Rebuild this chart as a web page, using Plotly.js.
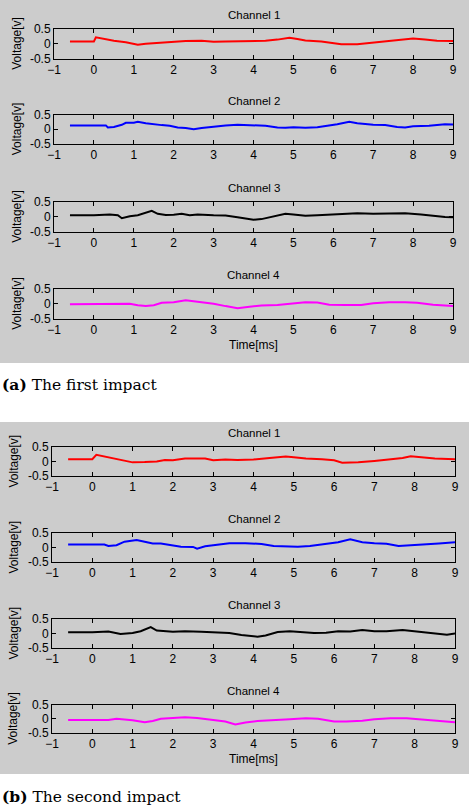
<!DOCTYPE html>
<html>
<head>
<meta charset="utf-8">
<script src="https://cdn.plot.ly/plotly-3.0.1.min.js"></script>
<style>html,body{margin:0;padding:0;background:#fff;}#chart{width:469px;height:805px;}</style>
</head>
<body>
<div id="chart"></div>
<script>
// ---------- Data ----------
var channelNames = ["Channel 1", "Channel 2", "Channel 3", "Channel 4"];
var channelColors = ["#ff0000", "#0000ff", "#000000", "#ff00ff"];
var xTickVals = [-1, 0, 1, 2, 3, 4, 5, 6, 7, 8, 9];
var yTickVals = [-0.5, 0, 0.5];
var yTickText = ["-0.5", "0", "0.5"];
var panelCaptions = ["<b>(a)</b> The first impact", "<b>(b)</b> The second impact"];

// First impact
var tA1 = [-0.6,0,0.05,0.2,0.5,0.8,1.0,1.1,1.3,1.5,1.8,2.0,2.3,2.7,3.0,3.3,3.7,4.0,4.3,4.6,4.9,5.1,5.3,5.7,6.0,6.2,6.6,6.9,7.2,7.5,8.0,8.3,8.6,9.0];
var vA1 = [0.08,0.08,0.22,0.18,0.1,0.05,-0.02,-0.03,0.0,0.02,0.04,0.06,0.09,0.1,0.07,0.08,0.08,0.08,0.1,0.14,0.2,0.16,0.11,0.08,0.02,-0.02,-0.02,0.02,0.06,0.1,0.18,0.14,0.1,0.09];
var tA2 = [-0.6,0,0.3,0.35,0.5,0.7,0.8,1.0,1.1,1.3,1.5,1.7,1.9,2.1,2.3,2.5,2.7,3.0,3.3,3.6,4.0,4.3,4.6,4.8,5.0,5.3,5.6,5.9,6.1,6.4,6.6,7.0,7.3,7.6,7.8,8.0,8.4,8.8,9.0];
var vA2 = [0.13,0.13,0.13,0.06,0.08,0.15,0.22,0.22,0.25,0.2,0.16,0.14,0.12,0.06,0.04,0.0,0.04,0.09,0.13,0.15,0.13,0.12,0.06,0.05,0.07,0.05,0.07,0.12,0.17,0.25,0.2,0.15,0.14,0.08,0.06,0.1,0.12,0.17,0.16];
var tA3 = [-0.6,0,0.4,0.6,0.7,0.9,1.1,1.3,1.45,1.6,1.8,2.0,2.2,2.4,2.6,3.0,3.3,3.6,4.0,4.2,4.4,4.6,4.8,5.0,5.3,5.6,6.0,6.3,6.6,7.0,7.4,7.8,8.2,8.5,8.8,9.0];
var vA3 = [0.05,0.05,0.08,0.05,-0.05,0.02,0.05,0.15,0.2,0.1,0.06,0.07,0.1,0.05,0.08,0.05,0.04,-0.02,-0.1,-0.08,-0.02,0.06,0.1,0.08,0.03,0.05,0.07,0.08,0.12,0.1,0.1,0.12,0.08,0.03,-0.01,-0.02];
var tA4 = [-0.6,0,0.5,0.7,0.9,1.1,1.3,1.5,1.7,2.0,2.3,2.6,3.0,3.3,3.6,3.9,4.2,4.6,5.0,5.3,5.6,5.9,6.3,6.7,7.0,7.4,7.8,8.1,8.5,9.0];
var vA4 = [-0.02,-0.02,-0.02,0.0,0.0,-0.05,-0.08,-0.05,0.03,0.05,0.12,0.07,0.0,-0.08,-0.15,-0.1,-0.06,-0.04,0.0,0.05,0.04,-0.03,-0.04,-0.04,0.02,0.05,0.05,0.03,-0.03,-0.08];

// Second impact
var tB1 = [-0.6,0,0.1,0.3,0.5,0.7,1.0,1.3,1.6,1.8,2.0,2.3,2.6,2.8,3.0,3.3,3.6,4.0,4.4,4.8,5.0,5.3,5.7,6.0,6.2,6.6,7.0,7.4,7.7,7.9,8.2,8.5,9.0];
var vB1 = [0.08,0.08,0.23,0.17,0.12,0.05,-0.03,-0.02,0.0,0.05,0.04,0.1,0.1,0.1,0.04,0.07,0.05,0.07,0.12,0.17,0.15,0.1,0.08,0.04,-0.04,-0.03,0.02,0.08,0.12,0.18,0.14,0.1,0.08];
var tB2 = [-0.6,0,0.3,0.4,0.6,0.8,1.1,1.3,1.5,1.7,2.0,2.2,2.5,2.6,2.8,3.1,3.4,3.8,4.2,4.5,4.8,5.1,5.4,5.8,6.1,6.4,6.7,7.0,7.3,7.6,7.9,8.2,8.6,9.0];
var vB2 = [0.1,0.1,0.1,0.05,0.08,0.2,0.26,0.2,0.14,0.14,0.08,0.03,0.02,-0.04,0.04,0.1,0.15,0.15,0.12,0.05,0.03,0.03,0.05,0.12,0.18,0.28,0.18,0.15,0.13,0.05,0.07,0.1,0.14,0.18];
var tB3 = [-0.6,0,0.4,0.7,1.0,1.2,1.45,1.6,2.0,2.3,2.7,3.0,3.4,3.7,4.1,4.3,4.6,4.9,5.2,5.5,5.8,6.1,6.4,6.7,7.0,7.3,7.7,8.0,8.4,8.8,9.0];
var vB3 = [0.04,0.04,0.07,-0.02,0.02,0.08,0.22,0.1,0.06,0.08,0.06,0.05,0.02,-0.05,-0.11,-0.07,0.05,0.08,0.05,0.02,0.03,0.08,0.07,0.12,0.08,0.08,0.12,0.07,0.02,-0.04,0.0];
var tB4 = [-0.6,0,0.4,0.6,0.8,1.0,1.3,1.5,1.7,2.0,2.3,2.6,3.0,3.3,3.55,3.8,4.1,4.5,4.9,5.3,5.6,6.0,6.3,6.7,7.0,7.4,7.8,8.1,8.5,9.0];
var vB4 = [-0.04,-0.04,-0.04,0.0,-0.02,-0.05,-0.12,-0.08,0.0,0.02,0.05,0.03,-0.03,-0.1,-0.2,-0.13,-0.08,-0.06,-0.02,0.02,0.0,-0.1,-0.1,-0.07,-0.02,0.02,0.02,-0.02,-0.07,-0.12];

var panels = [
  {t: [tA1, tA2, tA3, tA4], v: [vA1, vA2, vA3, vA4]},
  {t: [tB1, tB2, tB3, tB4], v: [vB1, vB2, vB3, vB4]}
];

// ---------- Layout geometry (pixels) ----------
var W = 469, H = 805;
var panelGeom = [
  {left: 54, right: 453, rows: [[29, 58.5], [114.5, 144], [202, 231.5], [289, 318.5]],
   bg: [0, 363], ytitleX: 17, timeY: 345, captionY: 384},
  {left: 52, right: 455, rows: [[447, 476], [533, 562], [619, 648], [704.5, 733]],
   bg: [422, 774], ytitleX: 13, timeY: 759, captionY: 796}
];
function py(p) { return 1 - p / H; }
function px(p) { return p / W; }

var FONT = "Liberation Sans, Arial, sans-serif";
var data = [];
var layout = {
  width: W, height: H,
  margin: {l: 0, r: 0, t: 0, b: 0},
  paper_bgcolor: "#ffffff",
  plot_bgcolor: "#ffffff",
  showlegend: false,
  font: {family: FONT, size: 12, color: "#000000"},
  shapes: [],
  annotations: []
};

var n = 0;
panels.forEach(function (panel, pi) {
  var g = panelGeom[pi];
  layout.shapes.push({
    type: "rect", xref: "paper", yref: "paper", layer: "below",
    x0: 0, x1: 1, y0: py(g.bg[1]), y1: py(g.bg[0]),
    fillcolor: "#cccccc", line: {width: 0}
  });
  var xd = [px(g.left), px(g.right)];
  var xc = (xd[0] + xd[1]) / 2;
  for (var c = 0; c < 4; c++) {
    n++;
    var xa = n === 1 ? "xaxis" : "xaxis" + n;
    var ya = n === 1 ? "yaxis" : "yaxis" + n;
    var row = g.rows[c];
    data.push({
      type: "scatter", mode: "lines",
      x: panel.t[c], y: panel.v[c],
      xaxis: "x" + (n === 1 ? "" : n), yaxis: "y" + (n === 1 ? "" : n),
      line: {color: channelColors[c], width: 2},
      hoverinfo: "skip"
    });
    layout[xa] = {
      domain: xd, anchor: "y" + (n === 1 ? "" : n),
      range: [-1, 9], tickvals: xTickVals,
      showline: true, linecolor: "#000", linewidth: 1, mirror: "ticks",
      ticks: "inside", ticklen: 4, tickcolor: "#000",
      showgrid: false, zeroline: false,
      tickfont: {family: FONT, size: 12, color: "#000"}
    };
    layout[ya] = {
      domain: [py(row[1]), py(row[0])], anchor: "x" + (n === 1 ? "" : n),
      range: [-0.5, 0.5], tickvals: yTickVals, ticktext: yTickText,
      showline: true, linecolor: "#000", linewidth: 1, mirror: "ticks",
      ticks: "inside", ticklen: 4, tickcolor: "#000",
      showgrid: false, zeroline: false,
      tickfont: {family: FONT, size: 12, color: "#000"}
    };
    // channel title
    layout.annotations.push({
      text: channelNames[c], xref: "paper", yref: "paper",
      x: xc, y: py(row[0] - 14), xanchor: "center", yanchor: "middle",
      showarrow: false, font: {family: FONT, size: 11.5, color: "#000"}
    });
    // y-axis title
    layout.annotations.push({
      text: "Voltage[v]", xref: "paper", yref: "paper", textangle: -90,
      x: px(g.ytitleX), y: py((row[0] + row[1]) / 2), xanchor: "center", yanchor: "middle",
      showarrow: false, font: {family: FONT, size: 12, color: "#000"}
    });
  }
  // x-axis title
  layout.annotations.push({
    text: "Time[ms]", xref: "paper", yref: "paper",
    x: xc, y: py(g.timeY), xanchor: "center", yanchor: "middle",
    showarrow: false, font: {family: FONT, size: 12, color: "#000"}
  });
  // caption
  layout.annotations.push({
    text: panelCaptions[pi], xref: "paper", yref: "paper",
    x: 0, y: py(g.captionY), xanchor: "left", yanchor: "middle",
    showarrow: false, font: {family: "DejaVu Serif, serif", size: 15.5, color: "#000"}
  });
});

Plotly.newPlot("chart", data, layout, {staticPlot: true, displayModeBar: false});
</script>
</body>
</html>
